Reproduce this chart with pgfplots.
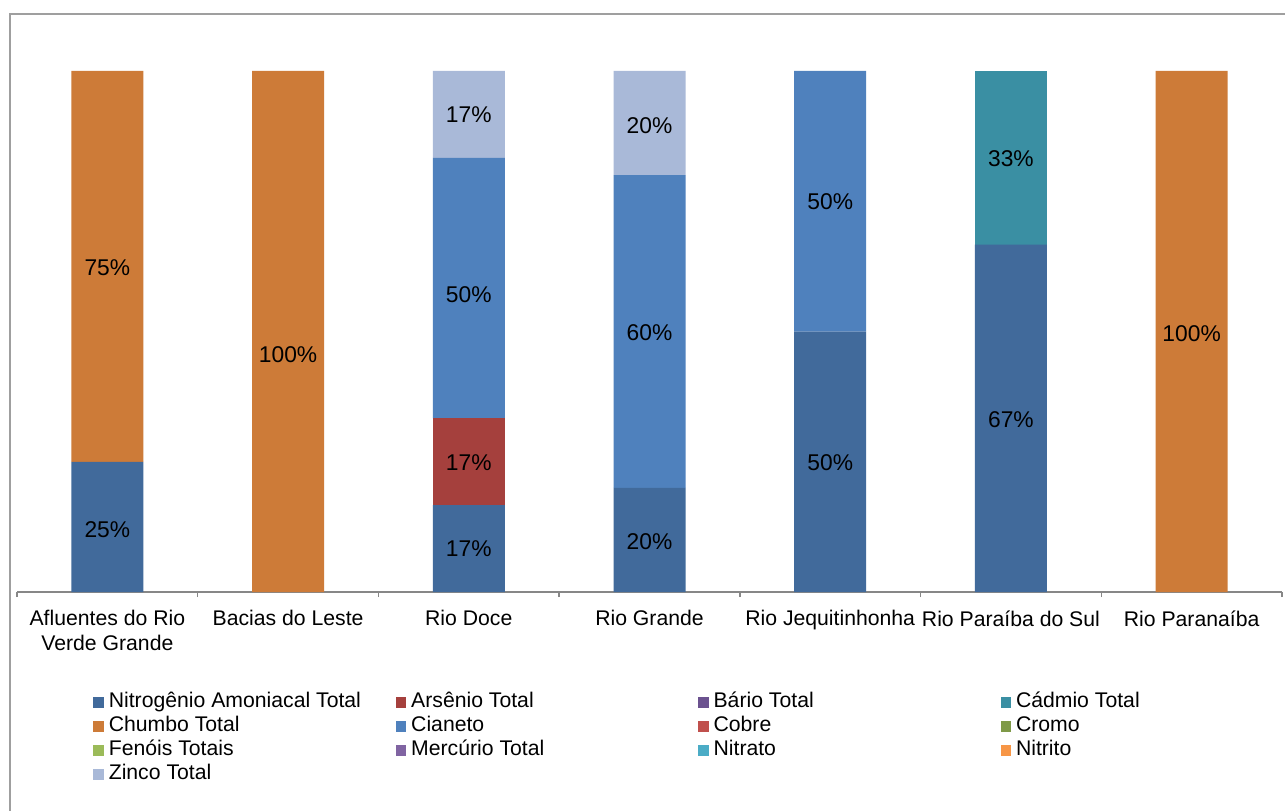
\documentclass[border=0pt]{standalone}
\usepackage{fontspec}
\setmainfont{Liberation Sans}
\usepackage{pgfplots}
\usepackage{pgfplotstable}
\pgfplotsset{compat=1.18}
\definecolor{cNit}{HTML}{416A9B}
\definecolor{cArs}{HTML}{A5403D}
\definecolor{cBar}{HTML}{6B528F}
\definecolor{cCad}{HTML}{3A8FA3}
\definecolor{cChu}{HTML}{CD7B38}
\definecolor{cCia}{HTML}{4F81BD}
\definecolor{cCob}{HTML}{C0504D}
\definecolor{cCro}{HTML}{7F9A48}
\definecolor{cFen}{HTML}{9BBB59}
\definecolor{cMer}{HTML}{8064A2}
\definecolor{cNitra}{HTML}{4BACC6}
\definecolor{cNitri}{HTML}{F79646}
\definecolor{cZin}{HTML}{A9B9D8}
\definecolor{axgray}{HTML}{878787}
\pgfplotstableread{
x Nit Ars Bar Cad Chu Cia Cob Cro Fen Mer Nitra Nitri Zin
0 25 0 0 0 75 0 0 0 0 0 0 0 0
1 0 0 0 0 100 0 0 0 0 0 0 0 0
2 16.667 16.667 0 0 0 50 0 0 0 0 0 0 16.667
3 20 0 0 0 0 60 0 0 0 0 0 0 20
4 50 0 0 0 0 50 0 0 0 0 0 0 0
5 66.667 0 0 33.333 0 0 0 0 0 0 0 0 0
6 0 0 0 0 100 0 0 0 0 0 0 0 0
}\data
\pgfplotstableread{
x y label
0 11.9 25\%
0 62.2 75\%
1 45.5 100\%
2 8.25 17\%
2 24.8 17\%
2 57.0 50\%
2 91.6 17\%
3 9.6 20\%
3 49.7 60\%
3 89.6 20\%
4 24.8 50\%
4 74.9 50\%
5 33.0 67\%
5 83.1 33\%
6 49.5 100\%
}\labels
\begin{document}
\begin{tikzpicture}
\useasboundingbox (0,0) rectangle (642.5pt,405pt);
\fill[white] (0,0) rectangle (642.5pt,405pt);
\draw[color=axgray!80, line width=1pt] (5pt,-10pt) -- (5pt,398pt) -- (660pt,398pt);
\begin{axis}[
  at={(8.5pt,109pt)}, anchor=south west,
  scale only axis, width=632.5pt, height=260.5pt,
  ybar stacked, bar width=36pt,
  xmin=-0.5, xmax=6.5, ymin=0, ymax=100,
  axis y line=none,
  axis x line*=bottom,
  x axis line style={color=axgray, line width=0.75pt, -},
  xtick={0,...,6},
  xticklabels={{Afluentes do Rio\\Verde Grande},{Bacias do Leste},{Rio Doce},{Rio Grande},{Rio Jequitinhonha},{Rio Paraíba do Sul},{Rio Paranaíba}},
  xticklabel style={align=center, font=\fontsize{10.6}{12.5}\selectfont, yshift=-1.5pt},
  major x tick style={draw=none},
  minor xtick={-0.5,0.5,...,6.5},
  minor x tick style={color=axgray, line width=0.75pt},
  minor tick length=2.6pt,
  tick align=outside,
  legend columns=4,
  legend cell align=left,
  legend image code/.code={\fill[#1] (0pt,-2.6pt) rectangle (5.2pt,2.6pt);},
  legend style={at={(0,0)}, anchor=north west, xshift=38pt, yshift=-49pt,
    draw=none, fill=none, inner sep=0pt, column sep=0pt,
    font=\fontsize{10.6}{12}\selectfont,
    nodes={inner xsep=2.5pt, inner ysep=1.15pt, text height=7.5pt, text depth=2.2pt, text width=141pt, align=flush left}},
]
\addplot[fill=cNit, draw=none] table[x=x,y=Nit] {\data};
\addlegendentry{Nitrogênio Amoniacal Total}
\addplot[fill=cArs, draw=none] table[x=x,y=Ars] {\data};
\addlegendentry{Arsênio Total}
\addplot[fill=cBar, draw=none] table[x=x,y=Bar] {\data};
\addlegendentry{Bário Total}
\addplot[fill=cCad, draw=none] table[x=x,y=Cad] {\data};
\addlegendentry{Cádmio Total}
\addplot[fill=cChu, draw=none] table[x=x,y=Chu] {\data};
\addlegendentry{Chumbo Total}
\addplot[fill=cCia, draw=none] table[x=x,y=Cia] {\data};
\addlegendentry{Cianeto}
\addplot[fill=cCob, draw=none] table[x=x,y=Cob] {\data};
\addlegendentry{Cobre}
\addplot[fill=cCro, draw=none] table[x=x,y=Cro] {\data};
\addlegendentry{Cromo}
\addplot[fill=cFen, draw=none] table[x=x,y=Fen] {\data};
\addlegendentry{Fenóis Totais}
\addplot[fill=cMer, draw=none] table[x=x,y=Mer] {\data};
\addlegendentry{Mercúrio Total}
\addplot[fill=cNitra, draw=none] table[x=x,y=Nitra] {\data};
\addlegendentry{Nitrato}
\addplot[fill=cNitri, draw=none] table[x=x,y=Nitri] {\data};
\addlegendentry{Nitrito}
\addplot[fill=cZin, draw=none] table[x=x,y=Zin] {\data};
\addlegendentry{Zinco Total}
\end{axis}
\begin{axis}[
  at={(8.5pt,109pt)}, anchor=south west,
  scale only axis, width=632.5pt, height=260.5pt,
  xmin=-0.5, xmax=6.5, ymin=0, ymax=100,
  axis lines=none,
]
\addplot[draw=none, mark=none, nodes near coords, point meta=explicit symbolic,
  every node near coord/.style={anchor=center, font=\fontsize{11.4}{13}\selectfont, text=black}]
  table[x=x, y=y, meta=label] {\labels};
\end{axis}
\end{tikzpicture}
\end{document}
